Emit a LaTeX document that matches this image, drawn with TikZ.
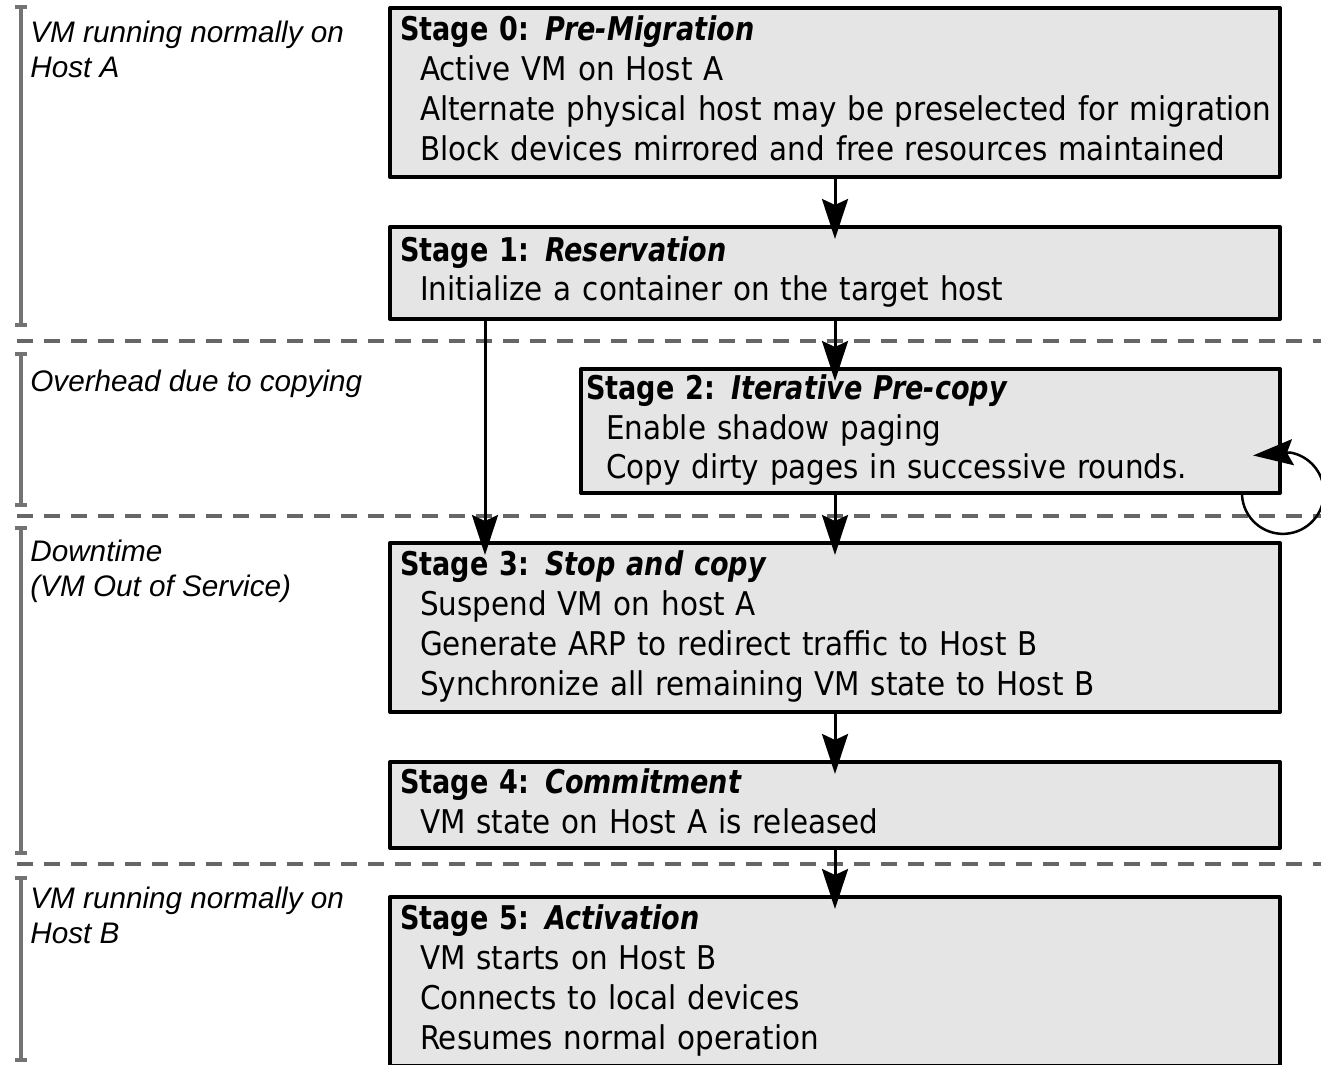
\documentclass[tikz,border=0pt]{standalone}
\usepackage{fontspec}
\usepackage{xcolor}
\usepackage{tikz}
\usetikzlibrary{arrows.meta,calc}
\newfontfamily\stagefont{DejaVu Sans Condensed}[BoldFeatures={FakeStretch=0.92},BoldItalicFeatures={FakeStretch=0.92}]
\newfontfamily\notefont{Liberation Sans}
\newcommand{\ttl}[1][0.2cm]{\hspace*{#1}}
\newcommand{\ind}[1][0.6cm]{\hspace*{#1}}

\begin{document}
\begin{tikzpicture}[>={Stealth[length=0.80cm,width=0.52cm,inset=0.12cm]},line join=round,
  stagebox/.style={draw,line width=0.08cm,fill=black!10,anchor=north west,inner xsep=0pt,inner ysep=0pt,
    align=left,font=\stagefont\fontsize{18.6}{22.76}\selectfont,
    execute at begin node=\strut,execute at end node=\strut},
  flow/.style={->,line width=0.06cm,shorten >=-0.28cm},
  loopback/.style={->,line width=0.05cm},
  phase/.style={{Bar[width=0.24cm]}-{Bar[width=0.24cm]},line width=0.08cm,black!55},
  sep/.style={line width=0.08cm,black!60,dash pattern=on 0.32cm off 0.22cm},
  note/.style={anchor=north west,inner sep=0pt,align=left,font=\notefont\itshape\fontsize{16.9}{19.9}\selectfont}]
  \useasboundingbox (0,0) rectangle (26.420,-21.280);
  \draw[sep] (0.340,-6.820) -- (26.420,-6.820);
  \draw[sep] (0.340,-10.320) -- (26.420,-10.320);
  \draw[sep] (0.340,-17.280) -- (26.420,-17.280);
  \draw[phase] (0.410,-0.100) -- (0.410,-6.540);
  \draw[phase] (0.410,-7.040) -- (0.410,-10.140);
  \draw[phase] (0.410,-10.520) -- (0.410,-17.100);
  \draw[phase] (0.410,-17.520) -- (0.410,-21.240);
  \node[note] (n0) at (0.600,-0.408) {VM running normally on\\Host A};
  \node[note] (n1) at (0.600,-7.388) {Overhead due to copying};
  \node[note] (n2) at (0.600,-10.788) {Downtime\\(VM Out of Service)};
  \node[note] (n3) at (0.600,-17.728) {VM running normally on\\Host B};
  \node[stagebox,minimum height=3.38cm,text width=17.80cm] (s0) at (7.760,-0.120)
    {\ttl\textbf{Stage 0:} \textbf{\itshape Pre-Migration}\\
     \ind Active VM on Host A\\
     \ind Alternate physical host may be preselected for migration\\
     \ind Block devices mirrored and free resources maintained};
  \node[stagebox,minimum height=1.84cm,text width=17.80cm] (s1) at (7.760,-4.500)
    {\ttl\textbf{Stage 1:} \textbf{\itshape Reservation}\\
     \ind Initialize a container on the target host};
  \node[stagebox,minimum height=2.48cm,text width=13.98cm] (s2) at (11.580,-7.340)
    {\ttl[0.1cm]\textbf{Stage 2:} \textbf{\itshape Iterative Pre-copy}\\
     \ind[0.5cm]Enable shadow paging\\
     \ind[0.5cm]Copy dirty pages in successive rounds.};
  \node[stagebox,minimum height=3.38cm,text width=17.80cm] (s3) at (7.760,-10.820)
    {\ttl\textbf{Stage 3:} \textbf{\itshape Stop and copy}\\
     \ind Suspend VM on host A\\
     \ind Generate ARP to redirect traffic to Host B\\
     \ind Synchronize all remaining VM state to Host B};
  \node[stagebox,minimum height=1.72cm,text width=17.80cm] (s4) at (7.760,-15.200)
    {\ttl\textbf{Stage 4:} \textbf{\itshape Commitment}\\
     \ind VM state on Host A is released};
  \node[stagebox,minimum height=3.38cm,text width=17.80cm] (s5) at (7.760,-17.900)
    {\ttl\textbf{Stage 5:} \textbf{\itshape Activation}\\
     \ind VM starts on Host B\\
     \ind Connects to local devices\\
     \ind Resumes normal operation};
  \coordinate (B) at ([xshift=1.940cm]s1.south west);
  \coordinate (L) at ([xshift=-0.800cm]s2.south east);
  \draw[flow] (s0.south) -- (s1.north);
  \draw[flow] (s1.south) -- (s1.south |- s2.north);
  \draw[flow] (B) -- (B |- s3.north);
  \draw[flow] (s1.south |- s2.south) -- (s3.north);
  \draw[flow] (s3.south) -- (s4.north);
  \draw[flow] (s4.south) -- (s5.north);
  \draw[loopback] (L) arc[start angle=183,end angle=440,radius=0.82] -- ++(-0.74,-0.06);
\end{tikzpicture}
\end{document}
